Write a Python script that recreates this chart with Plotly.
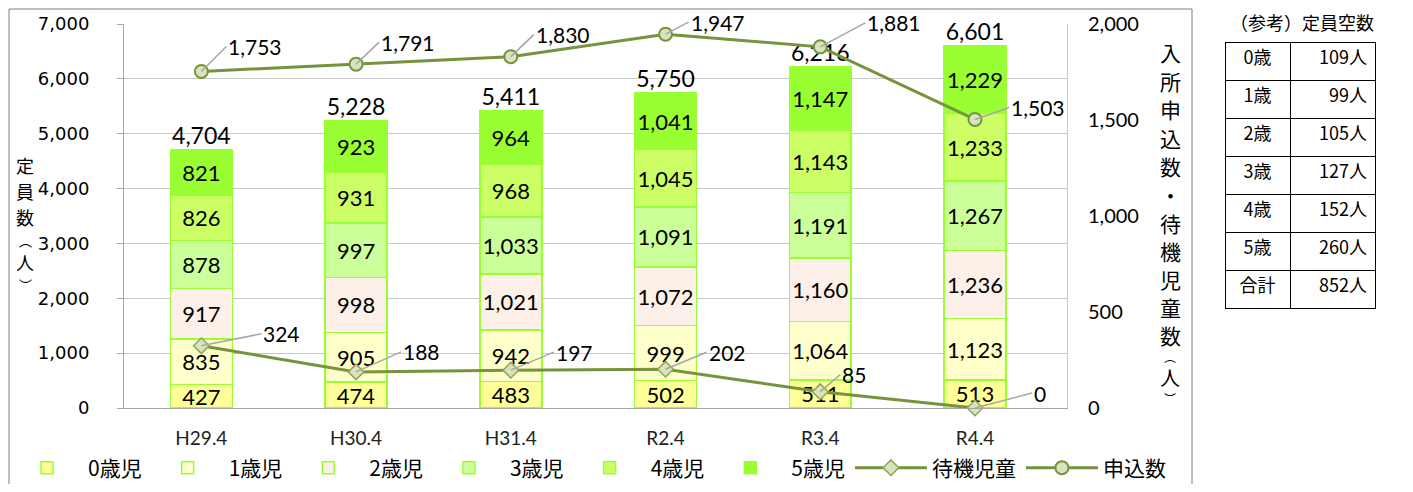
import plotly.graph_objects as go

# ---------------- data ----------------
categories = ["H29.4", "H30.4", "H31.4", "R2.4", "R3.4", "R4.4"]
age0 = [427, 474, 483, 502, 511, 513]
age1 = [835, 905, 942, 999, 1064, 1123]
age2 = [917, 998, 1021, 1072, 1160, 1236]
age3 = [878, 997, 1033, 1091, 1191, 1267]
age4 = [826, 931, 968, 1045, 1143, 1233]
age5 = [821, 923, 964, 1041, 1147, 1229]
totals = [4704, 5228, 5411, 5750, 6216, 6601]
waiting = [324, 188, 197, 202, 85, 0]
applications = [1753, 1791, 1830, 1947, 1881, 1503]
bar_names = ["0歳児", "1歳児", "2歳児", "3歳児", "4歳児", "5歳児"]
line_names = ["待機児童", "申込数"]
table_title = "（参考）定員空数"
table_ages = ["0歳", "1歳", "2歳", "3歳", "4歳", "5歳", "合計"]
table_vacancies = [109, 99, 105, 127, 152, 260, 852]
left_title_chars = ["定", "員", "数", "︵", "人", "︶"]
right_title_chars = ["入", "所", "申", "込", "数", "・", "待", "機", "児", "童", "数", "︵", "人", "︶"]

# ---------------- styles ----------------
bar_colors = ["#FFFF99", "#FFFFCC", "#FDF0E9", "#CCFF99", "#CCFF66", "#99FF33"]
bar_edge = "#99FF33"
line_color = "#77933C"
num_font = "Lato, Open Sans, sans-serif"
jp_font = "Noto Sans CJK JP, sans-serif"
app_offsets = [(25, -25), (23, -22), (23, -22), (23, -12), (45, -24), (34, -12)]
wait_offsets = [(60, -12), (45, -20), (43, -18), (41, -17), (20, -17), (57, -15)]
left_title_py = [165, 191, 217, 240, 262, 284]
left_title_sizes = [18, 18, 18, 13, 18, 13]
right_title_py = [52, 81, 109, 138, 166, 195, 223, 251, 279, 307, 335, 356, 377, 398]
right_title_sizes = [21] * 11 + [12, 20, 12]

# page body has an 8px margin: figure pixel = screen pixel - 8
OFF = 8
W, H = 1413 - 2 * OFF, 492 - 2 * OFF
ML, MT = 124 - OFF, 24 - OFF
MB = H - (408 - OFF)
MR = W - (1375 - OFF)
PW = W - ML - MR
PH = H - MT - MB


def px_x(s):
    return (s - OFF - ML) / PW


def px_y(s):
    return (H - MB - (s - OFF)) / PH


fig = go.Figure()

series = [age0, age1, age2, age3, age4, age5]
for name, vals, col in zip(bar_names, series, bar_colors):
    fig.add_trace(go.Bar(
        x=categories, y=vals, name=name,
        marker=dict(color=col, line=dict(color=bar_edge, width=1.5)),
        texttemplate="%{y:,}", textposition="inside", insidetextanchor="middle",
        textangle=0, textfont=dict(family=num_font, size=22, color="black"),
        width=0.4, cliponaxis=False,
    ))

fig.add_trace(go.Scatter(
    x=categories, y=totals, mode="text", text=[f"{v:,}" for v in totals],
    textposition="top center", textfont=dict(family=num_font, size=23, color="black"),
    showlegend=False, cliponaxis=False,
))

fig.add_trace(go.Scatter(
    x=categories, y=waiting, name=line_names[0], yaxis="y2", mode="lines+markers",
    line=dict(color=line_color, width=3),
    marker=dict(symbol="diamond", size=12, color="#D8E4BC", line=dict(color="#8FA65A", width=1.5)),
    cliponaxis=False,
))
fig.add_trace(go.Scatter(
    x=categories, y=applications, name=line_names[1], yaxis="y2", mode="lines+markers",
    line=dict(color=line_color, width=3),
    marker=dict(symbol="circle", size=13, color="#D7E4BD", line=dict(color=line_color, width=2)),
    cliponaxis=False,
))

annotations = []
for vals, offs in ((applications, app_offsets), (waiting, wait_offsets)):
    for cat, v, (dx, dy) in zip(categories, vals, offs):
        annotations.append(dict(
            x=cat, y=v, xref="x", yref="y2", text=f"{v:,}", showarrow=True,
            arrowhead=0, arrowwidth=1.5, arrowcolor="#A6A6A6", ax=dx, ay=dy,
            xanchor="left", yanchor="middle",
            font=dict(family=num_font, size=21, color="black"),
        ))

# axis titles (vertical stacked, one glyph per line)
for ch, py, sz in zip(left_title_chars, left_title_py, left_title_sizes):
    annotations.append(dict(
        x=px_x(25), y=px_y(py), xref="paper", yref="paper", showarrow=False,
        text=ch, font=dict(family=jp_font, size=sz, color="black"),
        xanchor="center", yanchor="middle",
    ))
for ch, py, sz in zip(right_title_chars, right_title_py, right_title_sizes):
    annotations.append(dict(
        x=px_x(1170), y=px_y(py), xref="paper", yref="paper", showarrow=False,
        text=ch, font=dict(family=jp_font, size=sz, color="black"),
        xanchor="center", yanchor="middle",
    ))
annotations.append(dict(
    x=px_x(1302), y=px_y(22), xref="paper", yref="paper", showarrow=False,
    text=table_title, font=dict(family=jp_font, size=18, color="black"),
    xanchor="center", yanchor="middle",
))

# reference table
vac_text = [f"{v}人" for v in table_vacancies]
fig.add_trace(go.Table(
    domain=dict(x=[px_x(1225), px_x(1375)], y=[px_y(311), px_y(42)]),
    columnwidth=[65, 85],
    header=dict(values=[table_ages[0], vac_text[0]], height=38,
                align=["center", "right"], line=dict(color="black", width=1),
                fill=dict(color="white"),
                font=dict(family=jp_font, size=18, color="black")),
    cells=dict(values=[table_ages[1:], vac_text[1:]], height=38,
               align=["center", "right"], line=dict(color="black", width=1),
               fill=dict(color="white"),
               font=dict(family=jp_font, size=18, color="black")),
))

fig.update_layout(
    width=W, height=H,
    margin=dict(l=ML, r=MR, t=MT, b=MB, autoexpand=False),
    barmode="stack",
    plot_bgcolor="white", paper_bgcolor="white",
    uniformtext=dict(minsize=22, mode="show"),
    xaxis=dict(domain=[0, (1067 - OFF - ML) / PW], showline=True, linecolor="#A6A6A6",
               ticks="", ticklabelstandoff=13,
               tickfont=dict(family=num_font, size=19, color="#222222")),
    yaxis=dict(range=[0, 7000], dtick=1000, tickformat=",", showgrid=True,
               gridcolor="#C8C8C8", gridwidth=1, showline=True, linecolor="#A6A6A6",
               ticks="outside", ticklen=6, tickcolor="#A6A6A6", ticklabelstandoff=24,
               tickfont=dict(family="DejaVu Sans, Liberation Sans", size=18, color="black"),
               zeroline=False),
    yaxis2=dict(range=[0, 2000], dtick=500, tickformat=",", overlaying="y",
                side="right", anchor="x", showgrid=False, showline=True,
                linecolor="#C8C8C8", ticks="", ticklabelstandoff=16,
                tickfont=dict(family=num_font, size=20, color="black"),
                zeroline=False),
    legend=dict(orientation="h", x=px_x(6), y=px_y(468), xanchor="left",
                yanchor="middle", font=dict(family=jp_font, size=21, color="black"),
                traceorder="normal", itemwidth=72, bgcolor="rgba(0,0,0,0)"),
    annotations=annotations,
    shapes=[dict(type="rect", xref="paper", yref="paper",
                 x0=px_x(9), x1=px_x(1192), y0=px_y(496), y1=px_y(9),
                 line=dict(color="#7F7F7F", width=1), fillcolor="rgba(0,0,0,0)",
                 layer="below")],
)

fig.write_html("out.html")
